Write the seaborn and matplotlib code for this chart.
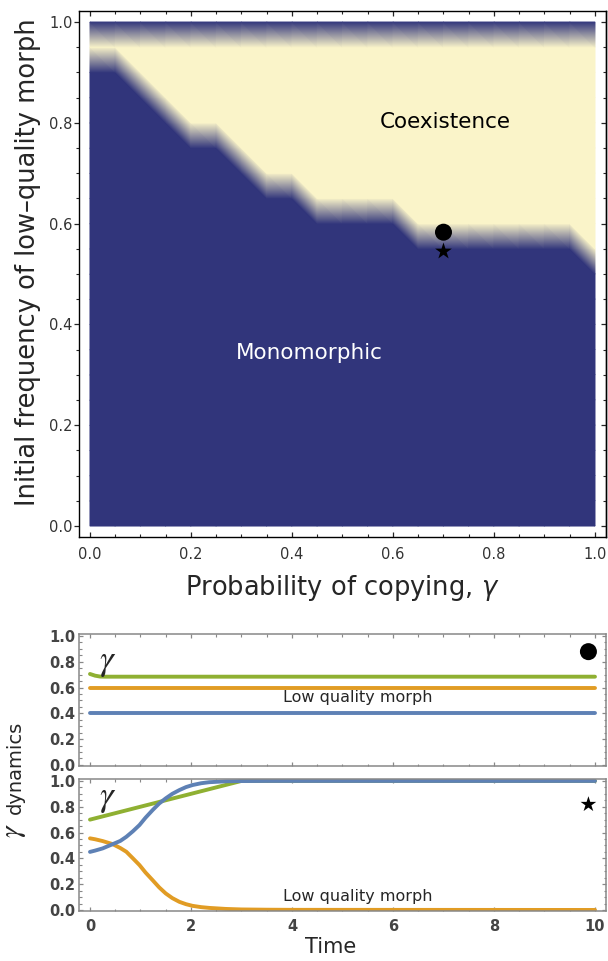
import numpy as np
import matplotlib
matplotlib.use("Agg")
import matplotlib.pyplot as plt
import matplotlib.tri as mtri
import seaborn as sns
from matplotlib.colors import LinearSegmentedColormap
from matplotlib.ticker import MultipleLocator

# ---- dados ----
# grade do diagrama (gamma x frequência inicial), passo 0.05
gamma_grid = [0.0, 0.05, 0.1, 0.15, 0.2, 0.25, 0.3, 0.35, 0.4, 0.45, 0.5,
              0.55, 0.6, 0.65, 0.7, 0.75, 0.8, 0.85, 0.9, 0.95, 1.0]
freq_grid = [0.0, 0.05, 0.1, 0.15, 0.2, 0.25, 0.3, 0.35, 0.4, 0.45, 0.5,
             0.55, 0.6, 0.65, 0.7, 0.75, 0.8, 0.85, 0.9, 0.95, 1.0]
# menor frequência inicial que leva à coexistência, para cada gamma
coex_threshold = [0.95, 0.95, 0.90, 0.85, 0.80, 0.80, 0.75, 0.70, 0.70, 0.65, 0.65,
                  0.65, 0.65, 0.60, 0.60, 0.60, 0.60, 0.60, 0.60, 0.60, 0.55]
coex_top_limit = 0.95   # linha f = 1.0 volta a ser monomórfica

circle_pt = (0.70, 0.583)
star_pt = (0.70, 0.545)

# painel superior (círculo): dinâmica plana
t_top = [0.0, 0.1, 0.2, 0.3, 10.0]
green_top = [0.705, 0.692, 0.685, 0.684, 0.684]
t_flat = [0.0, 10.0]
orange_top = [0.60, 0.60]
blue_top = [0.40, 0.40]

# painel inferior (estrela)
t_bot = [0.0, 0.1, 0.25, 0.45, 0.6, 0.72, 0.85, 0.98, 1.1, 1.24, 1.37, 1.5,
         1.63, 1.77, 1.9, 2.03, 2.2, 2.36, 2.69, 3.0, 3.5, 4.0, 10.0]
blue_bot = [0.45, 0.46, 0.477, 0.51, 0.535, 0.567, 0.61, 0.658, 0.715, 0.774, 0.825, 0.865,
            0.90, 0.929, 0.952, 0.968, 0.982, 0.99, 0.997, 0.999, 1.0, 1.0, 1.0]
orange_bot = [0.555, 0.548, 0.534, 0.51, 0.48, 0.451, 0.40, 0.348, 0.29, 0.231, 0.175, 0.128,
              0.092, 0.063, 0.045, 0.032, 0.022, 0.016, 0.008, 0.004, 0.002, 0.001, 0.0]
t_green_bot = [0.0, 3.0, 10.0]
green_bot = [0.70, 1.0, 1.0]

BLUE_DARK = "#31357B"
CREAM = "#FAF4C9"
C_BLUE = "#5E81B5"
C_ORANGE = "#E19C24"
C_GREEN = "#8FB032"

sns.set_theme(style="ticks")
plt.rcParams["font.family"] = ["DejaVu Sans"]

fig = plt.figure(figsize=(6.08, 9.61), dpi=100)
ax0 = fig.add_axes([0.1299, 0.4412, 0.8668, 0.5473])
ax1 = fig.add_axes([0.1299, 0.2032, 0.8668, 0.1367])
ax2 = fig.add_axes([0.1299, 0.0523, 0.8668, 0.1367])

# ---- 1. diagrama de fases ----
G, F = np.meshgrid(gamma_grid, freq_grid)
thr = np.array(coex_threshold)[None, :]
Z = ((F >= thr - 1e-9) & (F <= coex_top_limit + 1e-9)).astype(float)

# triangulação da grade com diagonal "\" (interpolação linear, estilo Mathematica)
nf, ng = Z.shape
tris = []
for i in range(nf - 1):
    for j in range(ng - 1):
        bl = i * ng + j
        br = bl + 1
        tl = bl + ng
        tr = tl + 1
        tris.append([tl, bl, br])
        tris.append([tl, br, tr])
tri = mtri.Triangulation(G.ravel(), F.ravel(), np.array(tris))
cmap = LinearSegmentedColormap.from_list("fase", [BLUE_DARK, CREAM])
ax0.tripcolor(tri, Z.ravel(), shading="gouraud", cmap=cmap, vmin=0, vmax=1)

sns.scatterplot(x=[circle_pt[0]], y=[circle_pt[1]], ax=ax0, color="black",
                s=150, marker="o", edgecolor="none", zorder=5)
sns.scatterplot(x=[star_pt[0]], y=[star_pt[1]], ax=ax0, color="black",
                s=160, marker="*", edgecolor="none", zorder=5)

ax0.text(0.703, 0.802, "Coexistence", ha="center", va="center", fontsize=15.5, color="black")
ax0.text(0.435, 0.343, "Monomorphic", ha="center", va="center", fontsize=15.5, color="white")

ax0.set_xlim(-0.0218, 1.0218)
ax0.set_ylim(-0.0218, 1.0218)
ticks = [0.0, 0.2, 0.4, 0.6, 0.8, 1.0]
ax0.set_xticks(ticks, [f"{v:.1f}" for v in ticks])
ax0.set_yticks(ticks, [f"{v:.1f}" for v in ticks])
ax0.xaxis.set_minor_locator(MultipleLocator(0.05))
ax0.yaxis.set_minor_locator(MultipleLocator(0.05))
ax0.tick_params(axis="x", which="both", direction="in", top=True, bottom=True,
                labelsize=10.5, labelcolor="#333333", pad=7)
ax0.tick_params(axis="y", which="both", direction="out", left=True, right=False,
                labelsize=10.5, labelcolor="#333333", pad=1)
ax0.tick_params(which="major", length=3.5, width=0.9)
ax0.tick_params(which="minor", length=2, width=0.8)
sec = ax0.secondary_yaxis("right")
sec.set_yticks(ticks, ["" for _ in ticks])
sec.yaxis.set_minor_locator(MultipleLocator(0.05))
sec.tick_params(which="both", direction="in")
sec.tick_params(which="major", length=3.5, width=0.9)
sec.tick_params(which="minor", length=2, width=0.8)
for sp in ax0.spines.values():
    sp.set_color("black")
    sp.set_linewidth(1.0)
sec.spines["right"].set_linewidth(1.0)

fig.text(342.5 / 608, 1 - 595 / 961, "Probability of copying, $\\gamma$", ha="center",
         va="baseline", fontsize=18.5, math_fontfamily="dejavusans")
fig.text(28 / 608, 1 - 262 / 961, "Initial frequency of low\u2013quality morph", ha="center",
         va="center", rotation=90, fontsize=18.5)

# ---- 2. painéis de dinâmica ----
def estilo_painel(ax, show_x):
    ax.set_xlim(-0.218, 10.218)
    ax.set_ylim(-0.006, 1.012)
    yt = [0.0, 0.2, 0.4, 0.6, 0.8, 1.0]
    xt = [0, 2, 4, 6, 8, 10]
    ax.set_yticks(yt, [f"{v:.1f}" for v in yt], fontweight="bold")
    ax.set_xticks(xt, [str(v) for v in xt] if show_x else ["" for _ in xt], fontweight="bold")
    ax.xaxis.set_minor_locator(MultipleLocator(0.5))
    ax.yaxis.set_minor_locator(MultipleLocator(0.05))
    ax.tick_params(which="both", direction="in", top=True, right=True, color="#888888",
                   labelcolor="#444444", labelsize=10.5)
    ax.tick_params(axis="y", pad=2.5)
    ax.tick_params(axis="x", pad=6)
    ax.tick_params(which="major", length=3, width=0.9)
    ax.tick_params(which="minor", length=1.8, width=0.8)
    for sp in ax.spines.values():
        sp.set_color("#888888")
        sp.set_linewidth(1.1)
        sp.set_visible(True)

lw = 2.8
sns.lineplot(x=t_top, y=green_top, ax=ax1, color=C_GREEN, linewidth=lw)
sns.lineplot(x=t_flat, y=orange_top, ax=ax1, color=C_ORANGE, linewidth=lw)
sns.lineplot(x=t_flat, y=blue_top, ax=ax1, color=C_BLUE, linewidth=lw)
sns.scatterplot(x=[9.87], y=[0.878], ax=ax1, color="black", s=150, marker="o",
                edgecolor="none", zorder=5)
ax1.text(0.34, 0.80, "$\\gamma$", ha="center", va="center", fontsize=25, math_fontfamily="stix")
ax1.text(5.31, 0.52, "Low quality morph", ha="center", va="center", fontsize=11.5)
estilo_painel(ax1, False)

sns.lineplot(x=t_green_bot, y=green_bot, ax=ax2, color=C_GREEN, linewidth=lw)
sns.lineplot(x=t_bot, y=orange_bot, ax=ax2, color=C_ORANGE, linewidth=lw)
sns.lineplot(x=t_bot, y=blue_bot, ax=ax2, color=C_BLUE, linewidth=lw)
sns.scatterplot(x=[9.87], y=[0.818], ax=ax2, color="black", s=140, marker="*",
                edgecolor="none", zorder=5)
ax2.text(0.34, 0.87, "$\\gamma$", ha="center", va="center", fontsize=25, math_fontfamily="stix")
ax2.text(5.31, 0.107, "Low quality morph", ha="center", va="center", fontsize=11.5)
estilo_painel(ax2, True)

fig.text(331 / 608, 1 - 947 / 961, "Time", ha="center", va="center", fontsize=15)
fig.text(14 / 608, 1 - 831 / 961, "$\\gamma$", ha="center", va="center",
         rotation=90, fontsize=21, math_fontfamily="stix")
fig.text(15.5 / 608, 1 - 767 / 961, "dynamics", ha="center", va="center",
         rotation=90, fontsize=14)

fig.savefig("out.png", dpi=100)
